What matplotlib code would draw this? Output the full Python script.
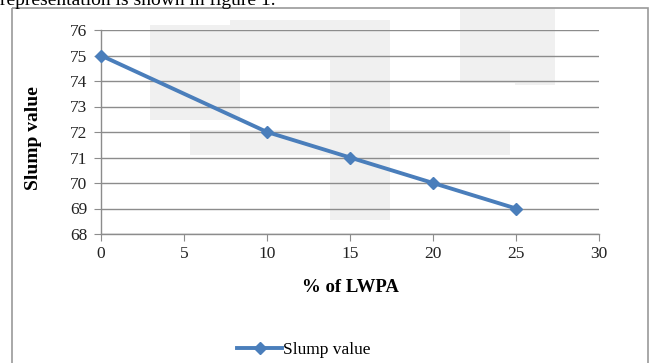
import matplotlib
matplotlib.use("Agg")
import matplotlib.pyplot as plt
from matplotlib.patches import Rectangle

lwpa = [0, 10, 15, 20, 25]
slump = [75, 72, 71, 70, 69]
xticks = [0, 5, 10, 15, 20, 25, 30]
yticks = [68, 69, 70, 71, 72, 73, 74, 75, 76]

plt.rcParams['font.family'] = ['Liberation Serif', 'DejaVu Serif']

W, H = 652, 363
fig = plt.figure(figsize=(W/100, H/100), dpi=100)

# background layer (faint watermark + frame), below the chart axes
bg = fig.add_axes([0, 0, 1, 1], zorder=-1)
bg.set_xlim(0, W)
bg.set_ylim(H, 0)
bg.axis('off')
wm = '#f0f0f0'
for (x0, y0, w, h) in [(150, 25, 90, 95), (230, 20, 100, 40), (330, 20, 60, 200),
                       (460, 8, 95, 75), (515, 60, 40, 25), (190, 130, 320, 25)]:
    bg.add_patch(Rectangle((x0, y0), w, h, facecolor=wm, edgecolor='none'))
bg.add_patch(Rectangle((12, 8), 636, H, facecolor='none', edgecolor='#9a9a9a', linewidth=1.2))

# caption text, cut off at the top as in the source page
fig.text(0.0, 1-5/H, "representation is shown in figure 1.", fontsize=14, color='black',
         ha='left', va='baseline')

ax = fig.add_axes([101/W, 1-234/H, (599-101)/W, (234-30)/H])
ax.patch.set_alpha(0)
ax.set_xlim(0, 30)
ax.set_ylim(68, 76)
ax.set_xticks(xticks)
ax.set_yticks(yticks)
ax.yaxis.grid(True, color='#8c8c8c', linewidth=1.0)
ax.set_axisbelow(True)
for s in ['top', 'right']:
    ax.spines[s].set_visible(False)
for s in ['left', 'bottom']:
    ax.spines[s].set_color('#8c8c8c')
    ax.spines[s].set_linewidth(1.0)
ax.tick_params(axis='both', colors='#8c8c8c', labelcolor='#222222', labelsize=12.5,
               length=5, direction='out')
ax.tick_params(axis='x', pad=4)
ax.tick_params(axis='y', pad=5)

line, = ax.plot(lwpa, slump, color='#4a7ebb', linewidth=2.8, marker='D', markersize=6.5,
                clip_on=False, zorder=5)

fig.text(33/W, 1-138/H, 'Slump value', fontsize=14, fontweight='bold', rotation=90,
         ha='center', va='center')
fig.text(350/W, 1-288/H, '% of LWPA', fontsize=13.5, fontweight='bold',
         ha='center', va='center')

fig.legend([line], ['Slump value'], loc='center', bbox_to_anchor=(304/W, 1-350/H),
           frameon=False, fontsize=12.5, handlelength=2.6, handletextpad=0.05)

fig.savefig('out.png', dpi=100)
